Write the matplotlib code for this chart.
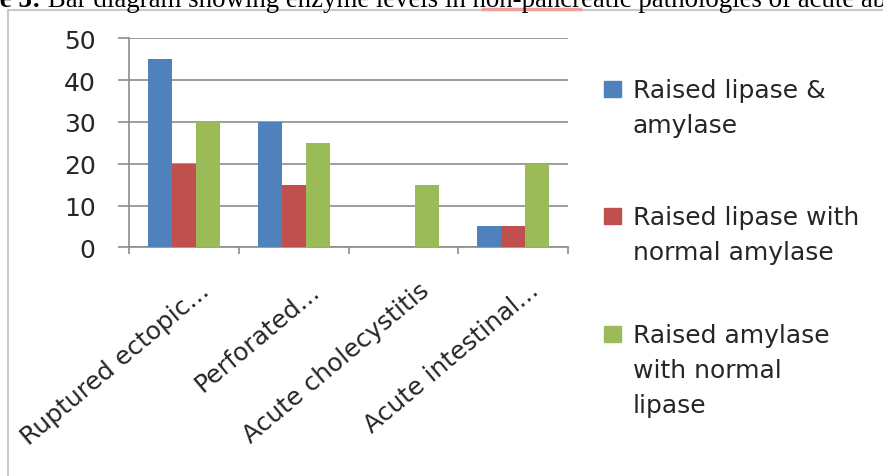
import numpy as np
import matplotlib.pyplot as plt
import matplotlib.transforms as mtransforms
from matplotlib.patches import Rectangle

# enzyme pattern counts per non-pancreatic pathology
categories = ['Ruptured ectopic...', 'Perforated...', 'Acute cholecystitis', 'Acute intestinal...']
lipase_amylase = [45, 30, 0, 5]
lipase_only = [20, 15, 0, 5]
amylase_only = [30, 25, 15, 20]
series_names = ['Raised lipase &\namylase',
                'Raised lipase with\nnormal amylase',
                'Raised amylase\nwith normal\nlipase']
colors = ['#4F81BD', '#C0504D', '#9BBB59']
yticks = [0, 10, 20, 30, 40, 50]
caption_head = 'Figure 3:'
caption_body = ' Bar diagram showing enzyme levels in non-pancreatic pathologies of acute abdomen'

W, H = 883, 477
FONT = 'DejaVu Sans'
FS = 18
CAP_FS = 19.4
fig = plt.figure(figsize=(W / 100, H / 100), dpi=100)
fig.patch.set_facecolor('white')

def fx(px):
    return px / W

def fy(py):
    return 1 - py / H

# chart frame
fig.patches.append(Rectangle((fx(8), fy(H + 20)), fx(W + 40), fy(11) - fy(H + 20),
                             transform=fig.transFigure, fill=False,
                             edgecolor='#c8c8c8', linewidth=1.5))

# caption from the page above, cut off by the frame top
renderer = fig.canvas.get_renderer()
probe = fig.text(0, 0, 'Figur', family='Liberation Serif', fontsize=CAP_FS, weight='bold')
shift = probe.get_window_extent(renderer).width
probe.remove()
head = fig.text(fx(-shift), fy(7), caption_head, family='Liberation Serif', fontsize=CAP_FS,
                weight='bold', ha='left', va='baseline', color='black')
head_w = head.get_window_extent(renderer).width
fig.text(fx(-shift + head_w), fy(7), caption_body, family='Liberation Serif', fontsize=CAP_FS,
         ha='left', va='baseline', color='black')
# spell-check underline under "non-pancreatic"
fig.add_artist(plt.Line2D([fx(483), fx(580)], [fy(10), fy(10)], transform=fig.transFigure,
                          color='#e8a0a0', linewidth=2.5))

ax = fig.add_axes([fx(129), fy(248.3), fx(568) - fx(129), fy(39.3) - fy(248.3)])
x = np.arange(len(categories))
w = 0.218
for i, (vals, c) in enumerate(zip([lipase_amylase, lipase_only, amylase_only], colors)):
    ax.bar(x + (i - 1) * w, vals, width=w, color=c, zorder=3)

ax.set_xlim(-0.5, len(categories) - 0.5)
ax.set_ylim(0, 50)
ax.set_yticks(yticks)
ax.yaxis.grid(True, color='#8c8c8c', linewidth=1.2, zorder=0)
for s in ['top', 'right']:
    ax.spines[s].set_visible(False)
for s in ['left', 'bottom']:
    ax.spines[s].set_color('#8c8c8c')
    ax.spines[s].set_linewidth(1.2)
ax.tick_params(axis='y', length=8, width=1.2, color='#8c8c8c', pad=16,
               labelsize=FS, labelcolor='#262626')
ax.set_yticklabels([str(v) for v in yticks], family=FONT)

ax.set_xticks(x)
ax.set_xticks(np.arange(len(categories) + 1) - 0.5, minor=True)
ax.tick_params(axis='x', which='major', length=0, pad=22)
ax.tick_params(axis='x', which='minor', length=5, width=1.2, color='#8c8c8c')
ax.set_xticklabels(categories, rotation=40, ha='right', rotation_mode='anchor',
                   family=FONT, fontsize=FS, color='#262626')
nudge = mtransforms.ScaledTranslation(15 / 100, 0, fig.dpi_scale_trans)
for lbl in ax.get_xticklabels():
    lbl.set_transform(lbl.get_transform() + nudge)

# legend drawn beside the plot
baselines = [98, 225, 343]
for name, c, base in zip(series_names, colors, baselines):
    fig.patches.append(Rectangle((fx(604), fy(base)), fx(17), fy(0) - fy(16),
                                 transform=fig.transFigure, color=c))
    fig.text(fx(633), fy(base - 19), name, family=FONT, fontsize=FS,
             color='#262626', ha='left', va='top', linespacing=1.58)

fig.savefig('out.png', dpi=100)
